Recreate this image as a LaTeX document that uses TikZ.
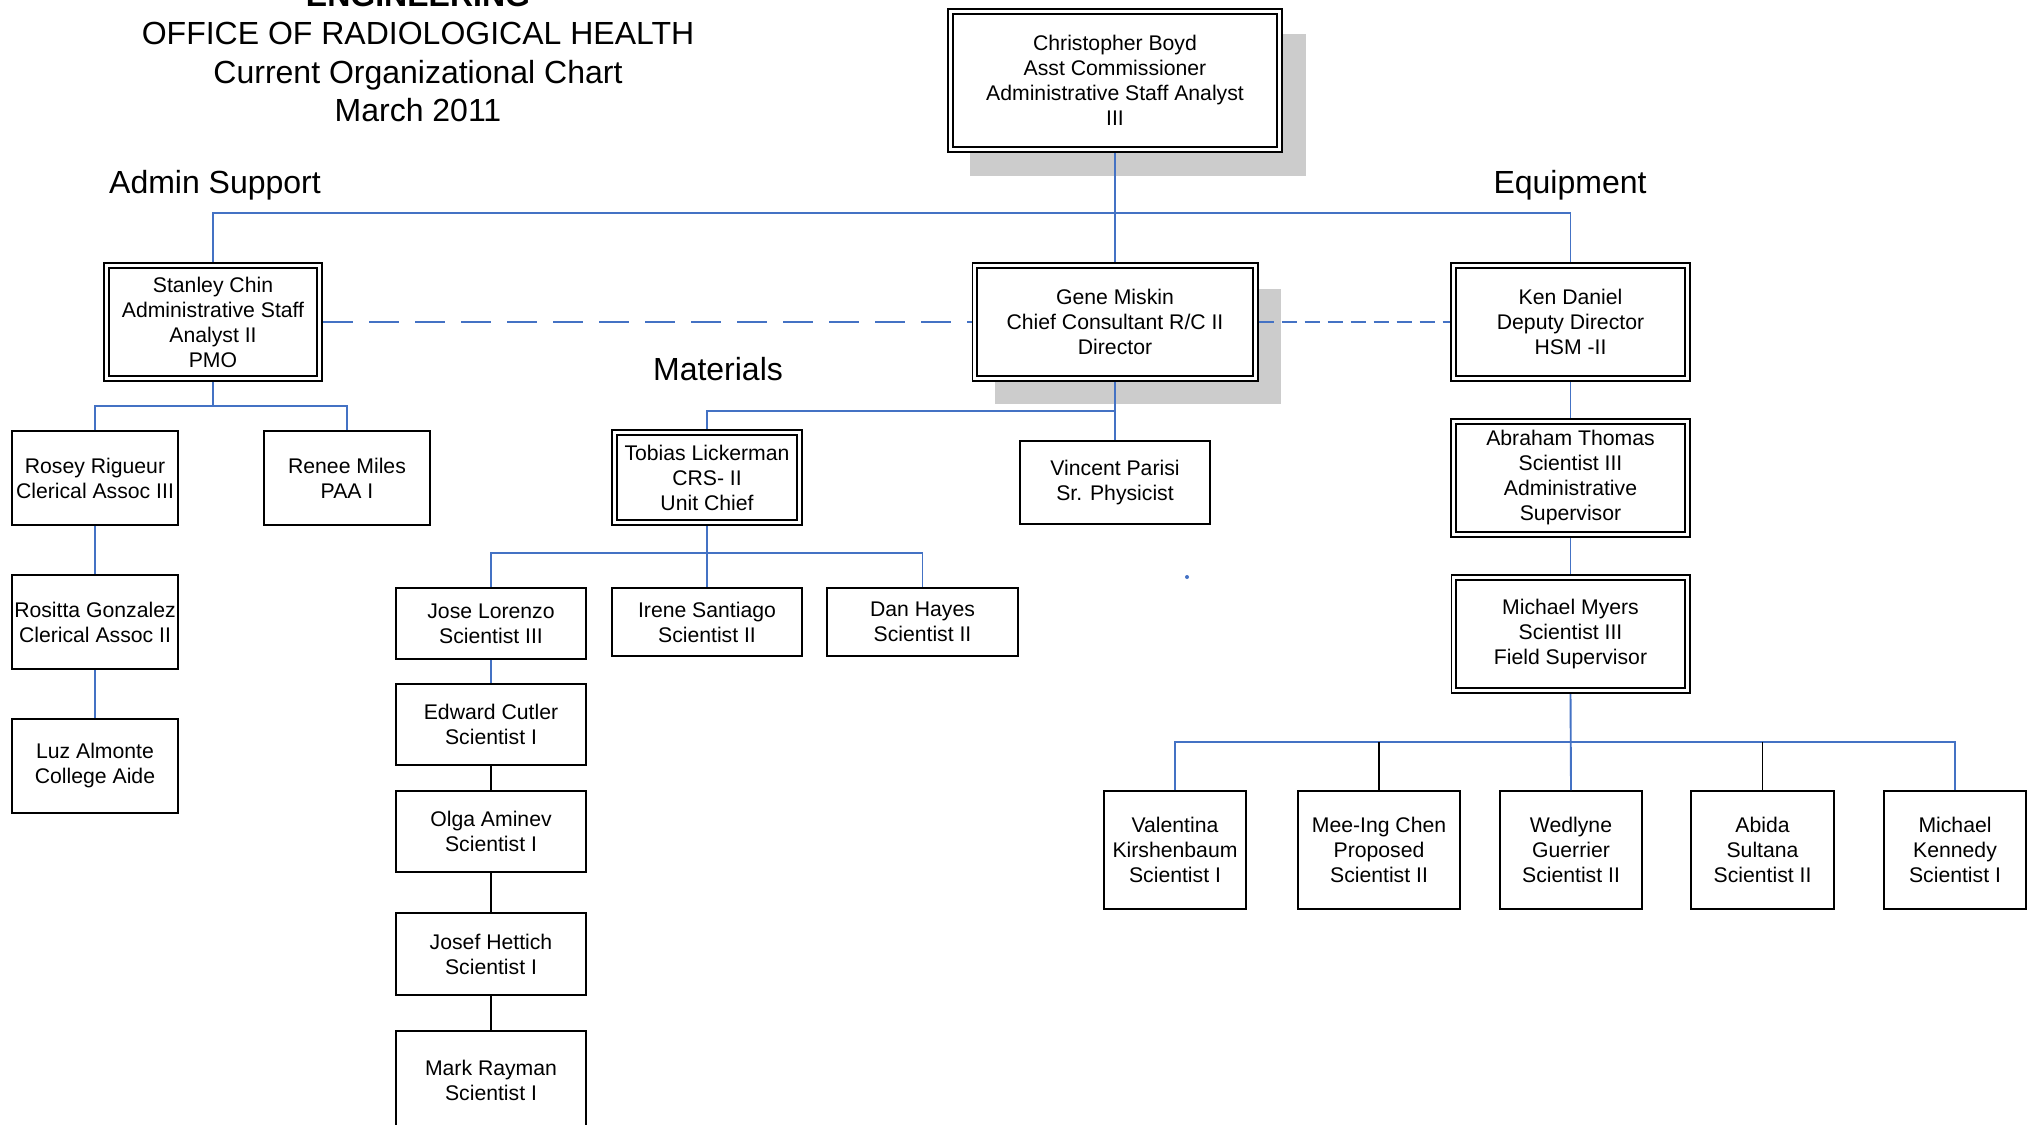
\documentclass[tikz,border=0pt]{standalone}
\usepackage{fontspec}
\setmainfont{Liberation Sans}
\usetikzlibrary{shadows}
\definecolor{linkblue}{RGB}{68,114,196}
\definecolor{shade}{RGB}{204,204,204}
\tikzset{
  staff/.style={draw, line width=1pt, fill=white, align=center, inner sep=0.5pt,
    font=\fontsize{10.6}{12.5}\selectfont},
  lead/.style={staff, double, line width=0.9pt, double distance=1.5pt, outer sep=1.65pt},
  shaded/.style={drop shadow={shadow xshift=11.5pt, shadow yshift=-12pt, shadow scale=1.02,
    fill=shade, opacity=1}},
  link/.style={linkblue, line width=0.95pt},
  plain/.style={black, line width=0.95pt},
  heading/.style={font=\fontsize{16}{19.2}\selectfont},
  colbox/.style={staff, minimum width=95pt, minimum height=41pt},
  lowbox/.style={staff, minimum width=71pt, minimum height=59pt},
  clerk/.style={staff, minimum width=83pt, minimum height=47pt},
}

\begin{document}
\begin{tikzpicture}[x=0.5pt, y=-0.5pt]
  \useasboundingbox (0,0) rectangle (2028,1124);
  \clip (0,0) rectangle (2028,1124);
  % rows (pixel grid of the sheet)
  \def\rTop{80.5}\def\rDir{322}\def\rSub{478}\def\rLow{850}
  % heading and group labels
  \node[heading, align=center, inner sep=0pt] (title) at (418,53)
    {\textbf{ENGINEERING}\\OFFICE OF RADIOLOGICAL HEALTH\\Current Organizational Chart\\March 2011};
  \node[heading] (admin) at (215,185) {Admin Support};
  \node[heading] (materials) at (718,369) {Materials};
  \node[heading] (equipment) at (1570,185) {Equipment};

  % commissioner and directors
  \node[lead, shaded, minimum width=164.7pt, minimum height=69.2pt] (boyd) at (1115,\rTop)
    {Christopher Boyd\\Asst Commissioner\\Administrative Staff Analyst\\III};
  \node[lead, minimum width=106.7pt, minimum height=56.7pt] (chin) at (213,\rDir)
    {Stanley Chin\\Administrative Staff\\Analyst II\\PMO};
  \node[lead, shaded, minimum width=140.2pt, minimum height=56.7pt] (miskin) at (1115,\rDir)
    {Gene Miskin\\Chief Consultant R/C II\\Director};
  \node[lead, minimum width=117.2pt, minimum height=56.7pt] (daniel) at (1570.5,\rDir)
    {Ken Daniel\\Deputy Director\\HSM -II};

  % admin support
  \node[clerk] (rosey) at (95,\rSub) {Rosey Rigueur\\Clerical Assoc III};
  \node[clerk] (renee) at (347,\rSub) {Renee Miles\\PAA I};
  \node[clerk] (rositta) at (95,622) {Rositta Gonzalez\\Clerical Assoc II};
  \node[clerk] (luz) at (95,766) {Luz Almonte\\College Aide};

  % materials
  \node[lead, minimum width=92.7pt, minimum height=45.2pt] (lickerman) at (707,477.5)
    {Tobias Lickerman\\CRS- II\\Unit Chief};
  \node[staff, minimum width=95pt, minimum height=41.5pt] (vincent) at (1115,482.5)
    {Vincent Parisi\\Sr. Physicist};
  \node[staff, minimum width=95pt, minimum height=35.5pt] (jose) at (491,623.5)
    {Jose Lorenzo\\Scientist III};
  \node[staff, minimum width=95pt, minimum height=34pt] (irene) at (707,622)
    {Irene Santiago\\Scientist II};
  \node[staff, minimum width=95.5pt, minimum height=34pt] (dan) at (922.5,622)
    {Dan Hayes\\Scientist II};
  \node[colbox, minimum height=40.5pt] (edward) at (491,724.5) {Edward Cutler\\Scientist I};
  \node[colbox, minimum height=40.5pt] (olga) at (491,831.5) {Olga Aminev\\Scientist I};
  \node[colbox] (josef) at (491,954) {Josef Hettich\\Scientist I};
  \node[colbox, minimum height=49pt] (mark) at (491,1080) {Mark Rayman\\Scientist I};

  % equipment
  \node[lead, minimum width=117.2pt, minimum height=56.7pt] (thomas) at (1570.5,\rSub)
    {Abraham Thomas\\Scientist III\\Administrative\\Supervisor};
  \node[lead, minimum width=116.7pt, minimum height=56.7pt] (myers) at (1570.5,634)
    {Michael Myers\\Scientist III\\Field Supervisor};
  \node[lowbox] (valentina) at (1175,\rLow) {Valentina\\Kirshenbaum\\Scientist I};
  \node[lowbox, minimum width=81pt] (meeing) at (1379,\rLow) {Mee-Ing Chen\\Proposed\\Scientist II};
  \node[lowbox] (wedlyne) at (1571,\rLow) {Wedlyne\\Guerrier\\Scientist II};
  \node[lowbox, minimum width=71.5pt] (abida) at (1762.5,\rLow) {Abida\\Sultana\\Scientist II};
  \node[lowbox] (kennedy) at (1955,\rLow) {Michael\\Kennedy\\Scientist I};

  % bus lines
  \coordinate (topbus) at (1115,213);
  \coordinate (chinbus) at (213,406);
  \coordinate (misbus) at (1115,411);
  \coordinate (lickbus) at (707,553);
  \coordinate (myersbus) at (1571,742);

  \draw[link] (boyd.south) -- (miskin.north);
  \draw[link] (chin.north) |- (topbus) -| (daniel.north);
  \draw[link, line width=1pt, dash pattern=on 15pt off 8pt] (chin.east) -- (miskin.west);
  \draw[link, line width=1pt, dash pattern=on 7.5pt off 4pt] (miskin.east) -- (daniel.west);

  \draw[link] (chin.south) -- (chinbus);
  \draw[link] (rosey.north) |- (chinbus) -| (renee.north);
  \draw[link] (rosey) -- (rositta);
  \draw[link] (rositta) -- (luz);

  \draw[link] (miskin.south) -- (vincent.north);
  \draw[link] (misbus) -| (lickerman.north);
  \draw[link] (lickerman.south) -- (irene.north);
  \draw[link] (jose.north) |- (lickbus) -| (dan.north);
  \draw[link] (jose) -- (edward);
  \draw[plain] (edward) -- (olga);
  \draw[plain] (olga) -- (josef);
  \draw[plain] (josef) -- (mark);

  \draw[link] (daniel.south) -- (thomas.north);
  \draw[link] (thomas.south) -- (myers.north);
  \draw[link] (myers.south) -- (wedlyne.north);
  \draw[link] (valentina.north) |- (myersbus) -| (kennedy.north);
  \draw[plain] (meeing.north) -- (meeing.north |- myersbus);
  \draw[plain] (abida.north) -- (abida.north |- myersbus);
  \fill[linkblue] (1187,577) circle (1pt);
\end{tikzpicture}
\end{document}
